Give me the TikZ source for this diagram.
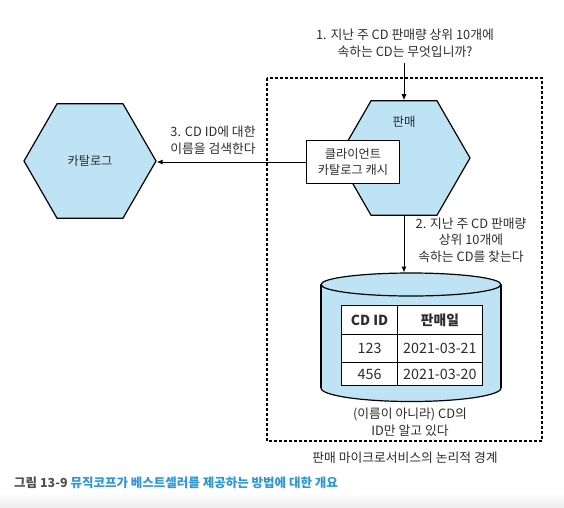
\documentclass[tikz,border=0pt]{standalone}
\usepackage{fontspec}
\setmainfont{Noto Sans CJK KR}
\usetikzlibrary{shapes.geometric,arrows.meta}
\definecolor{hexfill}{RGB}{190,227,245}
\definecolor{txtgray}{RGB}{45,45,45}
\definecolor{capgray}{RGB}{80,80,80}
\definecolor{capblue}{RGB}{46,150,212}
\definecolor{bgfade}{RGB}{238,238,238}
\tikzset{
  hex/.style={draw=black, line width=1.2pt, fill=hexfill, regular polygon, regular polygon sides=6,
    minimum size=132pt, inner sep=0pt, font=\fontsize{12.2}{14}\selectfont, text=txtgray},
  cachebox/.style={draw=black, line width=1pt, fill=white, minimum width=93pt, minimum height=43pt,
    inner sep=0pt, align=center, font=\fontsize{12.2}{15.7}\selectfont, text=txtgray},
  arr/.style={line width=1pt, -{Latex[length=6pt,width=5pt]}},
  txt/.style={align=center, font=\fontsize{12.8}{16.7}\selectfont, text=txtgray, inner sep=0pt},
  boundary/.style={line width=1.1pt, dash pattern=on 3pt off 2pt},
  cellline/.style={line width=1.1pt},
  celltxt/.style={font=\fontsize{14.3}{16}\selectfont, text=txtgray, inner sep=0pt},
}
\begin{document}
\begin{tikzpicture}[x=1pt,y=-1pt]
\useasboundingbox (0,0) rectangle (564,507);
\fill[white] (0,0) rectangle (564,507);
\shade[top color=white, bottom color=bgfade] (0,492) rectangle (564,507);

% boundary
\draw[boundary] (267,78) rectangle (542,441);
\node[txt] (boundlabel) at (405,458) {판매 마이크로서비스의 논리적 경계};

% hexagons
\node[hex] (catalog) at (90,161) {카탈로그};
\node[hex] (sales) at (404,158) {};
\node[txt, font=\fontsize{12.5}{14}\selectfont] (salesname) at (404,122) {판매};

% client cache box
\node[cachebox] (client) at (353,162) {클라이언트\\카탈로그 캐시};

% question 1
\node[txt] (q1) at (405,43.5) {1. 지난 주 CD 판매량 상위 10개에\\속하는 CD는 무엇입니까?};
\coordinate (q1start) at (404,63);
\draw[arr] (q1start) -- (sales.north);

% arrow 3
\draw[arr] (client.west) -- (client.west -| catalog.east);
\node[txt] (lab3) at (213,140.5) {3. CD ID에 대한\\이름을 검색한다};

% database cylinder
\filldraw[fill=hexfill, draw=black, line width=1.2pt] (411,388) ellipse [x radius=90, y radius=13.5];
\fill[hexfill] (321,284.5) rectangle (501,388);
\draw[line width=1.2pt] (321,284.5) -- (321,388) (501,284.5) -- (501,388);
\filldraw[fill=hexfill, draw=black, line width=1.2pt] (411,284.5) ellipse [x radius=90, y radius=11.5];
\coordinate (dbtop) at (404,272.5);

% arrow 2
\draw[arr] (sales.south) -- (dbtop);
\node[txt] (lab2) at (471,240) {2. 지난 주 CD 판매량\\상위 10개에\\속하는 CD를 찾는다};

% table
\fill[white] (341.7,305.7) rectangle (482.3,385.7);
\draw[cellline] (341.7,305.7) rectangle (482.3,385.7);
\draw[cellline] (397.5,305.7) -- (397.5,385.7);
\draw[cellline] (341.7,334.3) -- (482.3,334.3);
\draw[cellline] (341.7,362.5) -- (482.3,362.5);
\node[celltxt, font=\fontsize{13.8}{16}\selectfont\bfseries] (h1) at (369.6,320) {CD ID};
\node[celltxt, font=\fontsize{13.8}{16}\selectfont\bfseries] (h2) at (439.9,320) {판매일};
\node[celltxt] (c11) at (369.6,348.4) {123};
\node[celltxt] (c12) at (439.9,348.4) {2021-03-21};
\node[celltxt] (c21) at (369.6,374.1) {456};
\node[celltxt] (c22) at (439.9,374.1) {2021-03-20};

\node[txt] (dbnote) at (410,422.3) {(이름이 아니라) CD의\\ID만 알고 있다};

% caption
\node[anchor=west, inner sep=0pt, font=\fontsize{12.5}{14}\selectfont\bfseries] (caption) at (14,483)
  {\textcolor{capgray}{그림 13-9} \textcolor{capblue}{뮤직코프가 베스트셀러를 제공하는 방법에 대한 개요}};
\end{tikzpicture}
\end{document}
